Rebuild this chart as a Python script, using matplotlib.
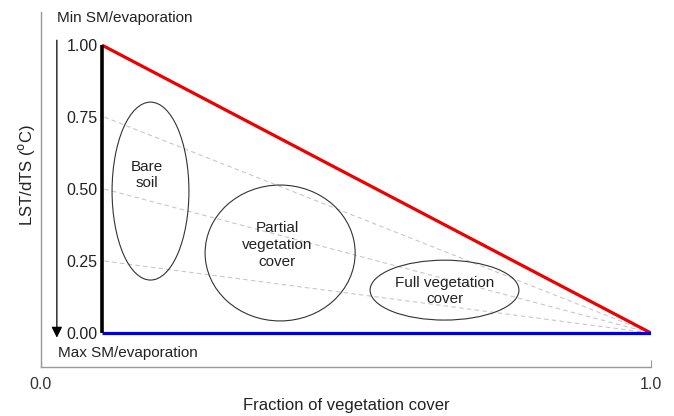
import matplotlib
matplotlib.use('Agg')
import matplotlib.pyplot as plt
from matplotlib.patches import Ellipse

plt.rcParams['font.family'] = ['Liberation Sans', 'DejaVu Sans']

# triangle corners (fraction of vegetation cover, scaled LST)
fv_min = 0.1
fv_max = 1.0
lst_ticks = [0.00, 0.25, 0.50, 0.75, 1.00]
dashed_starts = [0.75, 0.50, 0.25]

# regions: label, centre x, centre y, width, height, text x, text y
regions = [
    ('Bare\nsoil', 0.1795, 0.493, 0.126, 0.618, 0.174, 0.549),
    ('Partial\nvegetation\ncover', 0.392, 0.278, 0.246, 0.472, 0.387, 0.306),
    ('Full vegetation\ncover', 0.6615, 0.149, 0.244, 0.208, 0.662, 0.146),
]

fig = plt.figure(figsize=(6.74, 4.16), dpi=100)
ax = fig.add_axes([41 / 674, 49 / 416, 610 / 674, 355 / 416])
ax.set_xlim(0, 1)
ax.set_ylim(-0.118, 1.115)

for s in ['top', 'right']:
    ax.spines[s].set_visible(False)
for s in ['left', 'bottom']:
    ax.spines[s].set_color('#999999')
    ax.spines[s].set_linewidth(1.0)

ax.set_yticks([])
ax.set_xticks([0.0, 1.0])
ax.set_xticklabels(['0.0', '1.0'])
ax.tick_params(axis='x', direction='in', length=5, color='#999999',
               labelsize=11.5, pad=7, labelcolor='#333333')

# dashed isolines converging to the dry/wet vertex
for y0 in dashed_starts:
    ax.plot([fv_min + 0.004, fv_max], [y0, 0], ls=(0, (4, 3)), color='#c8c8c8', lw=0.8, zorder=1)

ax.plot([fv_min, fv_max], [lst_ticks[-1], lst_ticks[0]], color='#ee0000', lw=2.3, zorder=3,
        solid_capstyle='butt')
ax.plot([fv_min, fv_max], [0, 0], color='#0000dd', lw=2.3, zorder=3, solid_capstyle='butt')
ax.plot([fv_min, fv_min], [0, 1], color='black', lw=2.6, zorder=4, solid_capstyle='butt')

for label, cx, cy, w, h, tx, ty in regions:
    ax.add_patch(Ellipse((cx, cy), w, h, fill=False, edgecolor='#333333', lw=0.8, zorder=2))
    ax.text(tx, ty, label, ha='center', va='center', fontsize=11, color='#222222',
            linespacing=1.25, zorder=5)

# y tick labels next to the black edge
sec = ax.secondary_yaxis(fv_min)
sec.set_yticks(lst_ticks)
sec.set_yticklabels(['%.2f' % v for v in lst_ticks])
sec.tick_params(length=0, pad=3, labelsize=11.5, labelcolor='#222222')
sec.spines['left'].set_visible(False)

ax.annotate('', xy=(0.026, -0.016), xytext=(0.026, 1.017),
            arrowprops=dict(arrowstyle='-|>', color='black', lw=0.9, mutation_scale=16,
                            shrinkA=0, shrinkB=0))

ax.text(0.026, 1.094, 'Min SM/evaporation', ha='left', va='center', fontsize=11, color='#222222')
ax.text(0.028, -0.069, 'Max SM/evaporation', ha='left', va='center', fontsize=11, color='#222222')

ax.set_ylabel('LST/dTS ($^{\\rm o}$C)', fontsize=12, color='#222222')
ax.yaxis.set_label_coords(-0.006, (0.549 + 0.118) / 1.233)
ax.set_xlabel('Fraction of vegetation cover', fontsize=12, color='#222222')
ax.xaxis.set_label_coords(0.5, -0.086)
ax.xaxis.label.set_va('top')

fig.savefig('out.png', dpi=100)
